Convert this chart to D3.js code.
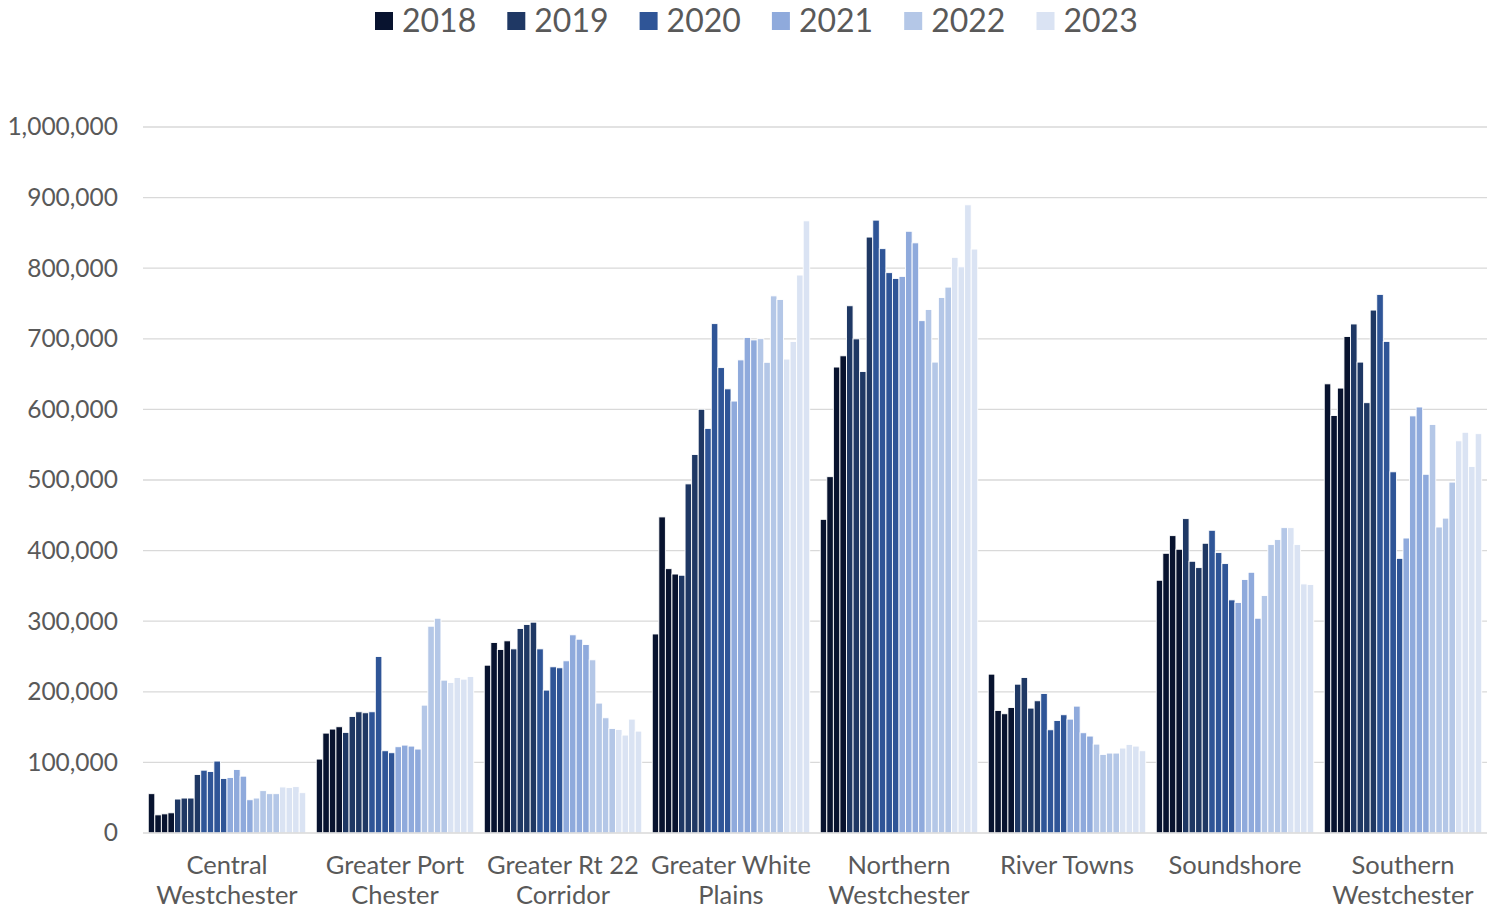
<!DOCTYPE html>
<html>
<head>
<meta charset="utf-8">
<script src="https://cdn.jsdelivr.net/npm/d3@7"></script>
<style>
  html, body { margin: 0; padding: 0; background: #fff; }
  svg { display: block; }
  text { font-family: Lato, "Noto Sans", sans-serif; fill: #595959; }
</style>
</head>
<body>
<svg id="chart" width="1499" height="909"></svg>
<script>
// Regions along the x axis (label lines split where the text wraps)
const regions = [
  "Central Westchester", "Greater Port Chester", "Greater Rt 22 Corridor",
  "Greater White Plains", "Northern Westchester", "River Towns",
  "Soundshore", "Southern Westchester"
];
const regionLabels = [
  ["Central", "Westchester"], ["Greater Port", "Chester"], ["Greater Rt 22", "Corridor"],
  ["Greater White", "Plains"], ["Northern", "Westchester"], ["River Towns"],
  ["Soundshore"], ["Southern", "Westchester"]
];
const years = ["2018", "2019", "2020", "2021", "2022", "2023"];
const quarters = ["Q1", "Q2", "Q3", "Q4"];
const yearColors = ["#08132f", "#1f3864", "#2f5597", "#8faadc", "#b4c7e7", "#dae3f3"];
const yTicks = [0, 100000, 200000, 300000, 400000, 500000, 600000, 700000, 800000, 900000, 1000000];

// Quarterly values, 2018 Q1 through 2023 Q4, per region
const centralWestchester = [55700, 25700, 27100, 28600, 48100, 49500, 49500, 82900, 89000, 87100, 101900, 77100,
  78600, 90000, 80500, 47100, 49500, 60000, 55700, 55700, 65200, 64300, 65700, 57100];
const greaterPortChester = [104700, 141500, 147200, 150500, 142500, 165100, 171700, 170300, 171700, 250000, 116500, 113700,
  122200, 124500, 123100, 118900, 181100, 292900, 304200, 216500, 213200, 220300, 217900, 221700];
const greaterRt22Corridor = [237700, 269800, 259900, 272200, 260800, 289600, 295300, 298600, 260800, 202400, 235400, 234000,
  243900, 280700, 274500, 267000, 245300, 184000, 163200, 148100, 146700, 138700, 161300, 144300];
const greaterWhitePlains = [281900, 447700, 374400, 366800, 365100, 494500, 536100, 600200, 573100, 721500, 659200, 629100,
  611800, 670100, 701900, 698400, 700200, 666700, 760800, 755600, 671300, 696100, 790300, 867100];
const northernWestchester = [444300, 504700, 660000, 675900, 746800, 699900, 653600, 844100, 868100, 827700, 793700, 785500,
  788400, 852300, 835900, 725700, 741500, 667000, 758500, 773200, 815400, 801900, 889800, 827100];
const riverTowns = [225000, 173600, 168900, 177800, 210800, 220300, 176900, 187300, 197600, 146200, 159400, 167500,
  161300, 179700, 142000, 137300, 125900, 111300, 113200, 113200, 120300, 125500, 123100, 116500];
const soundshore = [358000, 396200, 421200, 401900, 445300, 384900, 375900, 410400, 428800, 397200, 381600, 330200,
  326400, 359000, 369300, 304200, 336300, 408500, 415600, 432500, 432500, 408500, 352800, 351900];
const southernWestchester = [636200, 591300, 630200, 703300, 721000, 667000, 609500, 740700, 762900, 696300, 511600, 389000,
  417800, 590800, 603400, 508100, 578700, 433400, 446000, 497000, 555500, 567600, 519200, 565600];

const regionValues = [centralWestchester, greaterPortChester, greaterRt22Corridor, greaterWhitePlains,
  northernWestchester, riverTowns, soundshore, southernWestchester];

// Flatten into one row per bar
const periods = years.flatMap(y => quarters.map(q => y + " " + q));
const rows = regions.flatMap((r, ri) => regionValues[ri].map((v, pi) => ({
  region: r, period: periods[pi], year: years[Math.floor(pi / 4)], value: v
})));

const svg = d3.select("#chart");
const plot = { left: 143, right: 1487, top: 127, bottom: 833 };

const x0 = d3.scaleBand().domain(regions).range([plot.left, plot.right]).padding(0);
const x1 = d3.scaleBand().domain(periods).range([0, x0.bandwidth()]).paddingInner(0).paddingOuter(0.8);
const y = d3.scaleLinear().domain([0, 1000000]).range([plot.bottom, plot.top]);
const color = d3.scaleOrdinal().domain(years).range(yearColors);

// Horizontal gridlines
svg.append("g")
  .selectAll("line")
  .data(yTicks.filter(t => t > 0))
  .join("line")
  .attr("x1", plot.left).attr("x2", plot.right)
  .attr("y1", d => y(d)).attr("y2", d => y(d))
  .attr("stroke", "#d9d9d9").attr("stroke-width", 1.3);

// Y axis labels
const yAxis = d3.axisLeft(y).tickValues(yTicks).tickFormat(d3.format(",")).tickSize(0).tickPadding(25);
const yg = svg.append("g").attr("transform", `translate(${plot.left},0)`).call(yAxis);
yg.select(".domain").remove();
yg.selectAll("text")
  .style("font-family", "Lato, 'Noto Sans', sans-serif")
  .style("font-size", "24.5px")
  .attr("fill", "#595959");

// Bars
svg.append("g")
  .selectAll("rect")
  .data(rows)
  .join("rect")
  .attr("x", d => x0(d.region) + x1(d.period))
  .attr("y", d => y(d.value))
  .attr("width", x1.bandwidth())
  .attr("height", d => y(0) - y(d.value))
  .attr("fill", d => color(d.year))
  .attr("stroke", "#ffffff")
  .attr("stroke-width", 0.9);

// Baseline
svg.append("line")
  .attr("x1", plot.left).attr("x2", plot.right)
  .attr("y1", y(0)).attr("y2", y(0))
  .attr("stroke", "#d9d9d9").attr("stroke-width", 1.5);

// Region labels
const xg = svg.append("g");
regions.forEach((r, i) => {
  const t = xg.append("text")
    .attr("x", x0(r) + x0.bandwidth() / 2)
    .attr("y", 874)
    .attr("text-anchor", "middle")
    .style("font-size", "25.5px");
  regionLabels[i].forEach((line, li) => {
    t.append("tspan")
      .attr("x", x0(r) + x0.bandwidth() / 2)
      .attr("dy", li === 0 ? 0 : 30)
      .text(line);
  });
});

// Legend
const legendStart = 375, legendStep = 132.3;
const lg = svg.append("g");
years.forEach((yr, i) => {
  const gx = legendStart + i * legendStep;
  lg.append("rect")
    .attr("x", gx).attr("y", 12)
    .attr("width", 18).attr("height", 18)
    .attr("fill", color(yr));
  lg.append("text")
    .attr("x", gx + 27).attr("y", 32)
    .style("font-size", "32px")
    .text(yr);
});
</script>
</body>
</html>
